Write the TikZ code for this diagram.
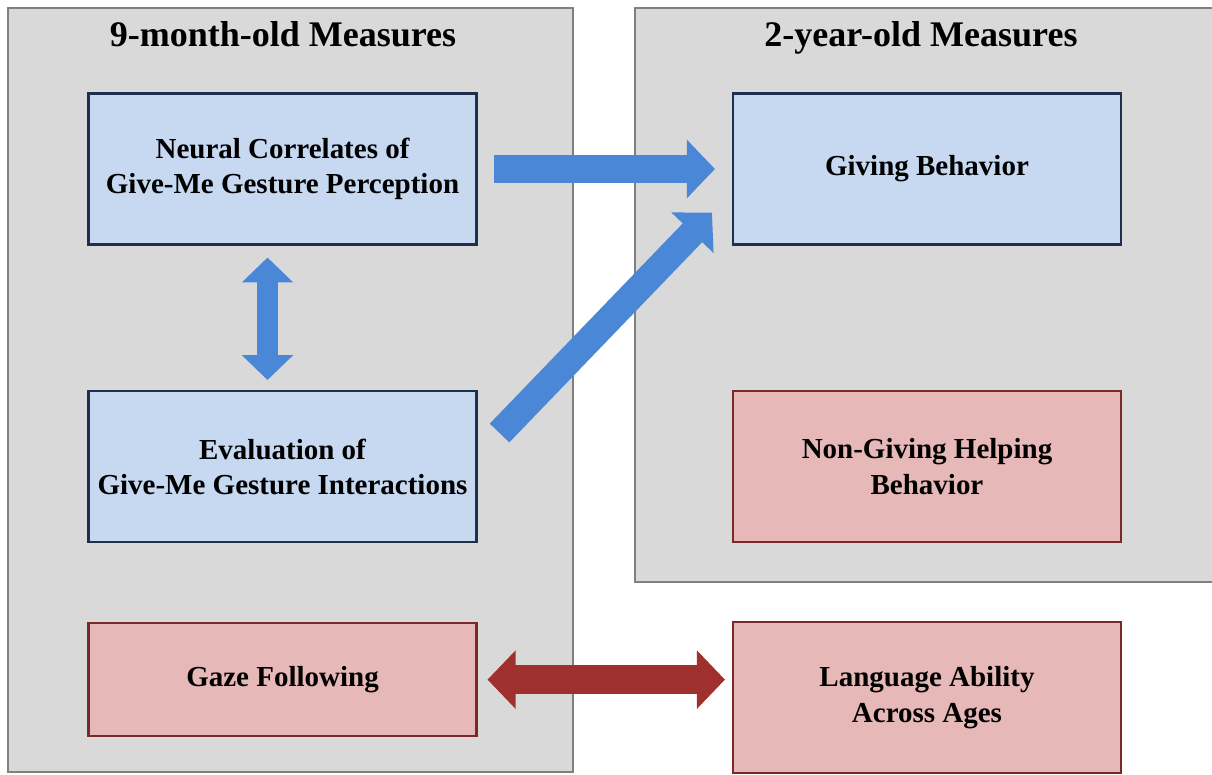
\documentclass[tikz,border=0pt]{standalone}
\usepackage{fontspec}
\setmainfont{Liberation Serif}
\usepackage{tikz}
\usetikzlibrary{shapes,arrows.meta,positioning,calc}
\usepackage{xcolor}

\definecolor{panelgray}{HTML}{D9D9D9}
\definecolor{paneledge}{HTML}{808080}
\definecolor{boxblue}{HTML}{C6D9F1}
\definecolor{edgeblue}{HTML}{1F2F4D}
\definecolor{boxred}{HTML}{E6B8B7}
\definecolor{edgered}{HTML}{7A2828}
\definecolor{arrowblue}{HTML}{4A87D6}
\definecolor{arrowred}{HTML}{A0302E}

\begin{document}
\begin{tikzpicture}[x=0.02cm,y=-0.02cm,
  panel/.style={fill=panelgray, draw=paneledge, line width=1.1pt},
  paneltitle/.style={anchor=base, font=\fontsize{20.5}{24}\selectfont\bfseries},
  measure/.style={draw, line width=1.2pt, align=center, minimum width=7.76cm,
    minimum height=3.02cm, font=\fontsize{16.5}{20}\selectfont\bfseries},
  bluebox/.style={measure, fill=boxblue, draw=edgeblue},
  redbox/.style={measure, fill=boxred, draw=edgered},
  bluearrow/.style={arrowblue, line width=15.4pt,
    -{Triangle[width=32.4pt,length=16pt]}},
  twoway/.style={arrowblue, line width=12pt,
    {Triangle[width=28.5pt,length=14.2pt]}-{Triangle[width=28.5pt,length=14.2pt]}},
  redarrow/.style={arrowred, line width=16.5pt,
    {Triangle[width=32.4pt,length=16pt]}-{Triangle[width=32.4pt,length=16pt]}}]
\clip (0,0) rectangle (1212,774);
\draw[panel] (8,8) rectangle (573,772);
\draw[panel] (635,8) rectangle (1222,582);
\node[paneltitle] (nine) at (283,46) {9-month-old Measures};
\node[paneltitle] (two) at (921,46) {2-year-old Measures};

\node[bluebox] (neural) at (282.5,169) {Neural Correlates of\\Give-Me Gesture Perception};
\node[bluebox, right=5.09cm of neural] (giving) {Giving Behavior};
\node[bluebox, below=2.89cm of neural] (eval) {Evaluation of\\Give-Me Gesture Interactions};
\node[redbox, right=5.09cm of eval] (helping) {Non-Giving Helping\\Behavior};
\node[redbox, below=1.58cm of eval, minimum height=2.26cm] (gaze) {Gaze Following};
\node[redbox, below=1.56cm of helping] (language) {Language Ability\\Across Ages};

% links between the measures
\draw[bluearrow, shorten <=0.32cm, shorten >=0.34cm] (neural) -- (giving);
\draw[bluearrow] ([shift={(22,43)}]eval.north east) -- ([shift={(-20,-33)}]giving.south west);
\draw[twoway, shorten <=0.24cm, shorten >=0.2cm] ([xshift=-0.3cm]neural.south) -- ([xshift=-0.3cm]eval.north);
\draw[redarrow, shorten <=0.2cm, shorten >=0.14cm] (gaze.east) -- (gaze.east -| language.west);
\end{tikzpicture}
\end{document}
